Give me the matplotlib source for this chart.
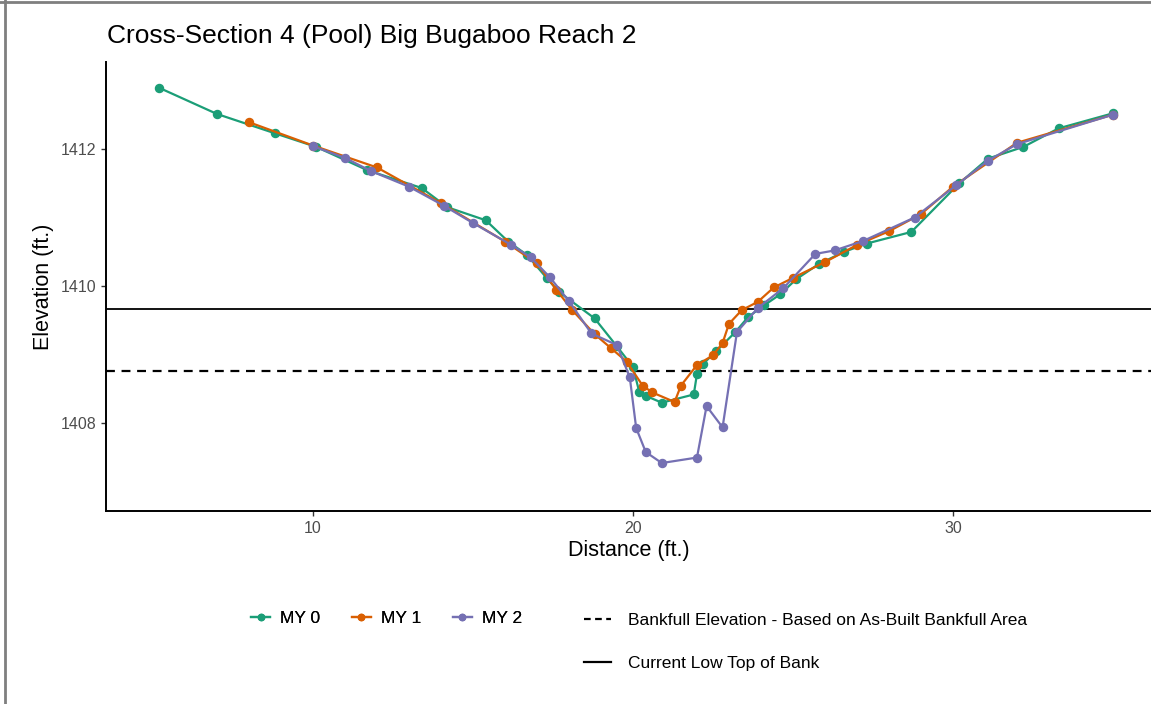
import matplotlib
matplotlib.use('Agg')
import matplotlib.pyplot as plt
from matplotlib.lines import Line2D

plt.rcParams['font.family'] = ['Liberation Sans', 'DejaVu Sans']

# survey points per monitoring year: station (ft) and elevation (ft)
my0_dist = [5.2, 7.0, 8.8, 10.1, 11.7, 13.4, 14.2, 15.4, 16.1, 16.7, 17.3, 17.7, 18.8, 19.5,
            20.0, 20.2, 20.4, 20.9, 21.9, 22.0, 22.2, 22.6, 23.2, 23.6, 24.1, 24.6, 25.1,
            25.8, 26.6, 27.3, 28.7, 30.2, 31.1, 32.2, 33.3, 35.0]
my0_elev = [1412.89, 1412.51, 1412.23, 1412.03, 1411.69, 1411.43, 1411.15, 1410.96, 1410.65,
            1410.45, 1410.12, 1409.91, 1409.53, 1409.12, 1408.82, 1408.45, 1408.4, 1408.3,
            1408.42, 1408.72, 1408.87, 1409.05, 1409.33, 1409.55, 1409.72, 1409.88, 1410.1,
            1410.32, 1410.5, 1410.62, 1410.79, 1411.5, 1411.86, 1412.03, 1412.3, 1412.52]

my1_dist = [8.0, 10.0, 12.0, 14.0, 16.0, 17.0, 17.6, 18.1, 18.8, 19.3, 19.8, 20.3, 20.6,
            21.3, 21.5, 22.0, 22.5, 22.8, 23.0, 23.4, 23.9, 24.4, 25.0, 26.0, 27.0, 28.0,
            29.0, 30.0, 32.0, 35.0]
my1_elev = [1412.39, 1412.05, 1411.73, 1411.21, 1410.65, 1410.33, 1409.95, 1409.65, 1409.3,
            1409.1, 1408.9, 1408.55, 1408.45, 1408.31, 1408.55, 1408.85, 1408.99, 1409.17,
            1409.45, 1409.65, 1409.77, 1409.98, 1410.12, 1410.35, 1410.6, 1410.8, 1411.05,
            1411.45, 1412.09, 1412.5]

my2_dist = [10.0, 11.0, 11.8, 13.0, 14.1, 15.0, 16.2, 16.8, 17.4, 18.0, 18.7, 19.5, 19.9,
            20.1, 20.4, 20.9, 22.0, 22.3, 22.8, 23.25, 23.9, 24.7, 25.7, 26.3, 27.2, 28.8,
            30.1, 31.1, 32.0, 35.0]
my2_elev = [1412.04, 1411.87, 1411.68, 1411.45, 1411.17, 1410.92, 1410.6, 1410.42, 1410.13,
            1409.78, 1409.31, 1409.14, 1408.67, 1407.93, 1407.58, 1407.42, 1407.5, 1408.25,
            1407.94, 1409.33, 1409.68, 1409.97, 1410.47, 1410.52, 1410.66, 1411.0, 1411.47,
            1411.83, 1412.07, 1412.5]

bankfull_elev = 1408.76
low_top_of_bank = 1409.66

series = [
    ('MY 0', my0_dist, my0_elev, '#1B9E77'),
    ('MY 1', my1_dist, my1_elev, '#D95F02'),
    ('MY 2', my2_dist, my2_elev, '#7570B3'),
]

fig = plt.figure(figsize=(11.51, 7.04), dpi=100)
ax = fig.add_axes([0.0921, 0.2741, 0.9079, 0.638])

for name, dist, elev, color in series:
    ax.plot(dist, elev, color=color, lw=1.6, marker='o', ms=5.8, label=name, zorder=3)

ax.axhline(bankfull_elev, color='black', lw=1.6, ls=(0, (4, 3)), zorder=2)
ax.axhline(low_top_of_bank, color='black', lw=1.3, zorder=2)

ax.set_xlim(3.53, 36.19)
ax.set_ylim(1406.72, 1413.27)
ax.set_xticks([10, 20, 30])
ax.set_yticks([1408, 1410, 1412])

for side in ['top', 'right']:
    ax.spines[side].set_visible(False)
for side in ['left', 'bottom']:
    ax.spines[side].set_linewidth(1.4)
ax.tick_params(colors='#333333', labelcolor='#4D4D4D', labelsize=11.5, length=3.5, width=1)

ax.set_xlabel('Distance (ft.)', fontsize=15.5, labelpad=3)
ax.set_ylabel('Elevation (ft.)', fontsize=15.5, labelpad=5)
fig.text(0.093, 0.949, 'Cross-Section 4 (Pool) Big Bugaboo Reach 2', fontsize=19, va='center')

# colour legend for monitoring years
h_years = [Line2D([], [], color=c, lw=1.6, marker='o', ms=4.5) for _, _, _, c in series]
leg1 = fig.legend(h_years, [s[0] for s in series], loc='center', bbox_to_anchor=(0.336, 0.122),
                  ncol=3, frameon=False, fontsize=12.5, handlelength=1.1, handletextpad=0.6,
                  columnspacing=1.8)
fig.add_artist(leg1)

# linetype legend for reference elevations
h_lines = [Line2D([], [], color='black', lw=1.6, ls=(0, (3, 2))),
           Line2D([], [], color='black', lw=1.6)]
fig.legend(h_lines, ['Bankfull Elevation - Based on As-Built Bankfull Area',
                     'Current Low Top of Bank'],
           loc='upper left', bbox_to_anchor=(0.4935, 0.152), ncol=1, frameon=False,
           fontsize=12.5, handlelength=1.55, handletextpad=1.0, labelspacing=1.6)

# frame edges
fig.add_artist(Line2D([0, 1], [0.997, 0.997], transform=fig.transFigure, color='#7F7F7F', lw=2))
fig.add_artist(Line2D([0.0045, 0.0045], [0, 1], transform=fig.transFigure, color='#7F7F7F', lw=2))

fig.savefig('out.png', dpi=100)
